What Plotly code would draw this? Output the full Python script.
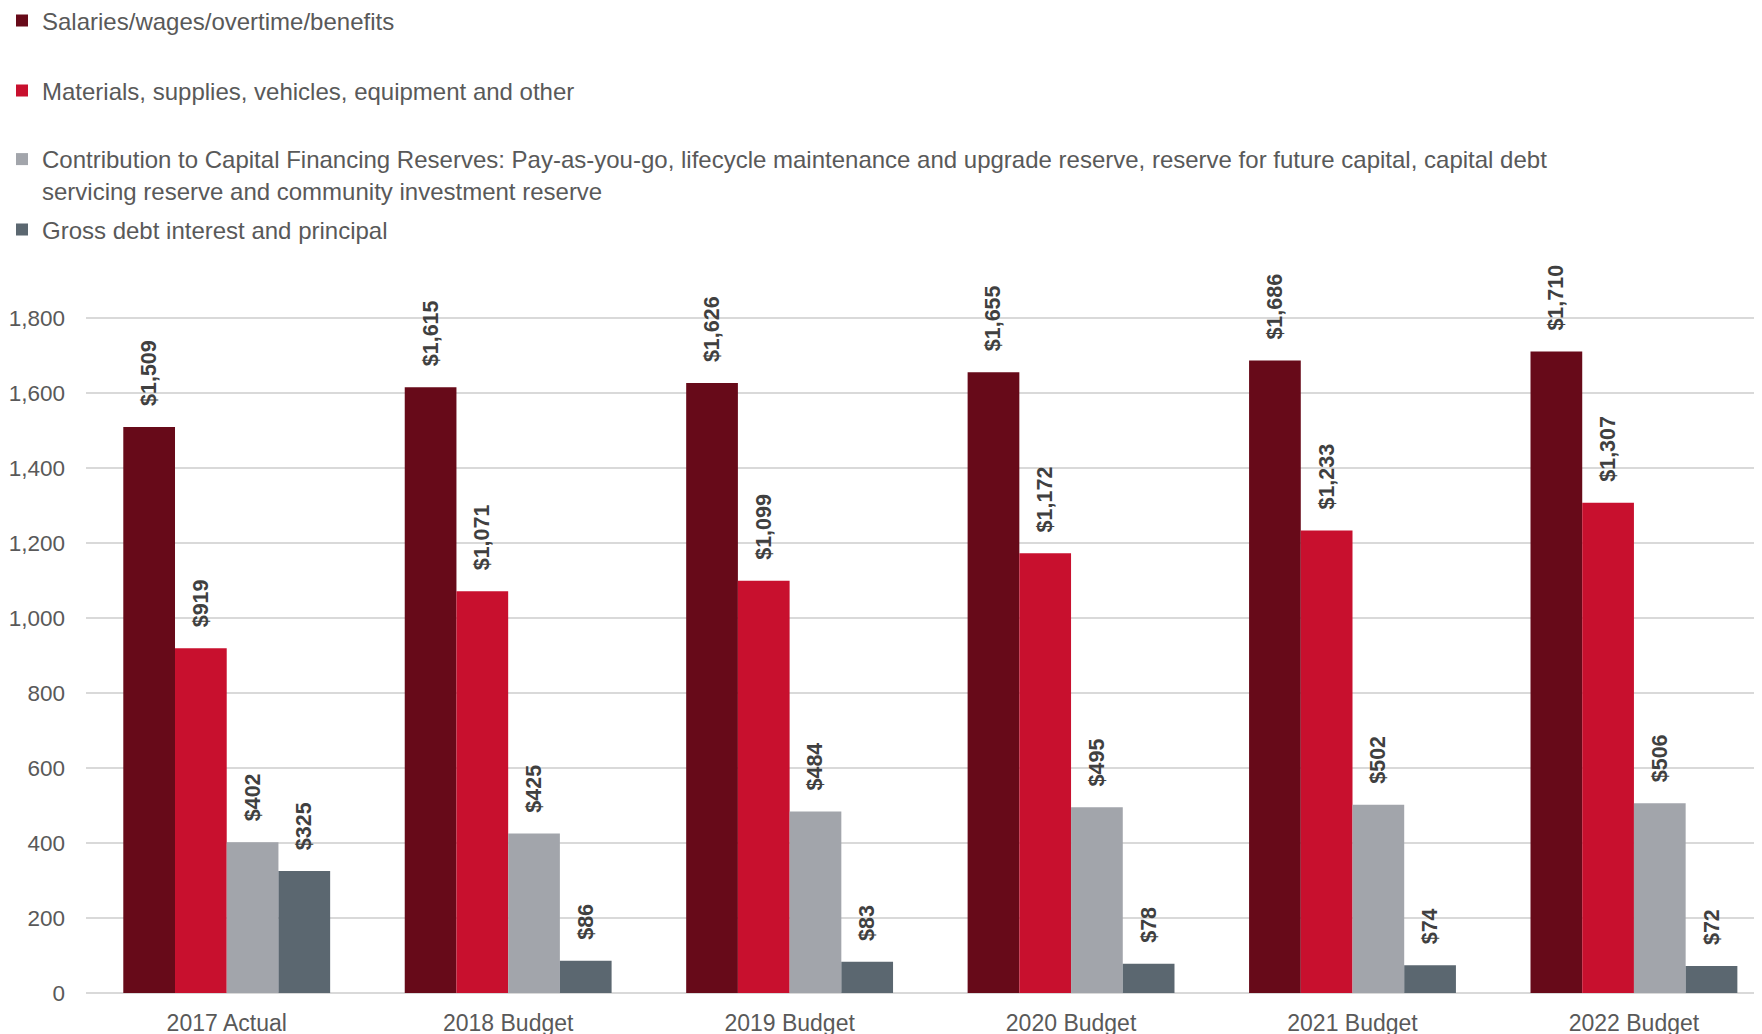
import plotly.graph_objects as go

categories = ["2017 Actual", "2018 Budget", "2019 Budget", "2020 Budget", "2021 Budget", "2022 Budget"]
salaries = [1509, 1615, 1626, 1655, 1686, 1710]
materials = [919, 1071, 1099, 1172, 1233, 1307]
capital = [402, 425, 484, 495, 502, 506]
debt = [325, 86, 83, 78, 74, 72]

series_names = [
    "Salaries/wages/overtime/benefits",
    "Materials, supplies, vehicles, equipment and other",
    "Contribution to Capital Financing Reserves: Pay-as-you-go, lifecycle maintenance and upgrade reserve, reserve for future capital, capital debt<br>servicing reserve and community investment reserve",
    "Gross debt interest and principal",
]
series_values = [salaries, materials, capital, debt]
colors = ["#670A19", "#C8102E", "#A2A5AB", "#5B6770"]

# page body has an 8px default margin; size the figure to fill the rest of the window
W, H = 1754, 1026
ML, MR, MT, MB = 78, 0, 291, 41
plot_h = H - MT - MB
plot_w = W - ML - MR

fig = go.Figure()
legend_ids = ["legend", "legend2", "legend3", "legend4"]
legend_centers = [13, 83, 167, 222]

for name, vals, col, lid in zip(series_names, series_values, colors, legend_ids):
    fig.add_trace(go.Bar(
        x=categories, y=vals, name=name, marker_color=col,
        marker_line_width=0,
        text=["\u00a0\u00a0\u00a0${:,}".format(v) for v in vals],
        textposition="outside", textangle=-90, cliponaxis=False,
        constraintext="none",
        textfont=dict(family="Liberation Sans, Arial", size=21.5, color="#404040", weight="bold"),
        legend=lid,
    ))

layout_legends = {}
for lid, yc in zip(legend_ids, legend_centers):
    layout_legends[lid] = dict(
        x=(-6 - ML) / plot_w, xanchor="left",
        y=1 + (MT - yc) / plot_h, yanchor="middle",
        font=dict(family="Liberation Sans, Arial", size=24, color="#595959"),
        bgcolor="rgba(0,0,0,0)", valign="top", itemclick=False,
    )

fig.update_layout(
    width=W, height=H,
    margin=dict(l=ML, r=MR, t=MT, b=MB, pad=0, autoexpand=False),
    plot_bgcolor="white", paper_bgcolor="white",
    barmode="group", bargap=0.265, bargroupgap=0,
    showlegend=True,
    **layout_legends,
)

fig.update_xaxes(
    range=[-0.5, 5.455], showgrid=False, showline=False, ticks="",
    tickfont=dict(family="Liberation Sans, Arial", size=23, color="#595959"),
    ticklabelstandoff=14, automargin=False,
)
fig.update_yaxes(
    range=[0, 1850], dtick=200, tick0=0, showgrid=True, gridcolor="#D9D9D9", gridwidth=2,
    zeroline=True, zerolinecolor="#D9D9D9", zerolinewidth=2,
    tickformat=",d", ticks="", showline=False,
    tickfont=dict(family="Liberation Sans, Arial", size=22.5, color="#595959"),
    ticklabelstandoff=20, automargin=False,
)

fig.write_html("out.html")
